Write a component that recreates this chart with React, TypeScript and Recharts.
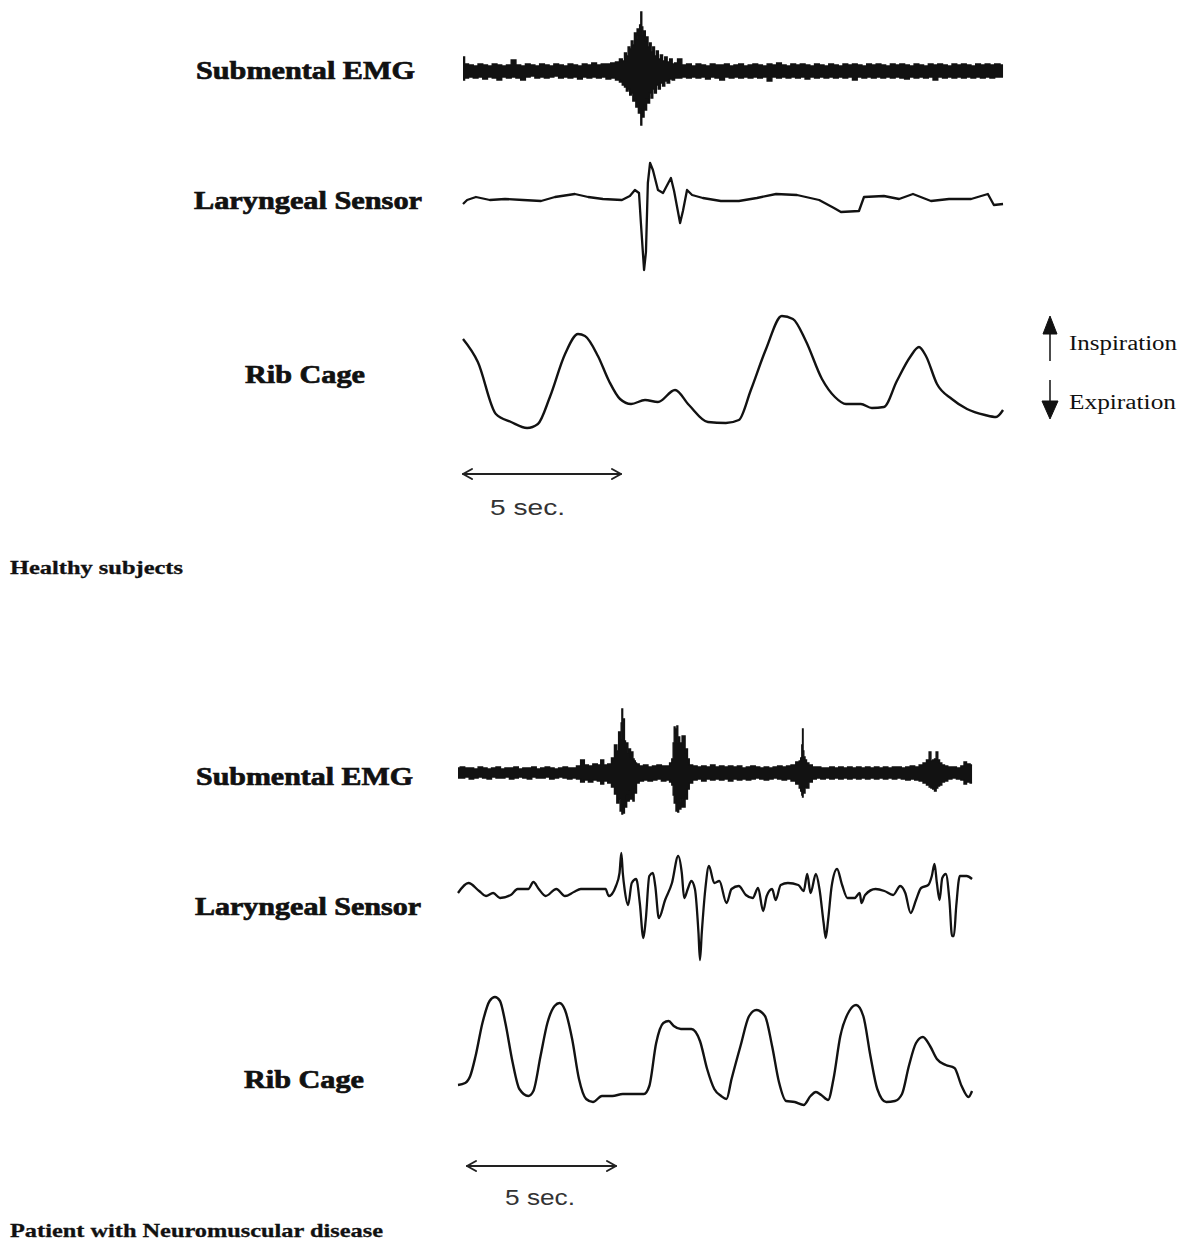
import React from "react";
import { LineChart, Line, AreaChart, Area, XAxis, YAxis } from "recharts";

// ---------- DATA (time in seconds, amplitude in arbitrary units) ----------
// Healthy subject: submental EMG envelope [t, downward amplitude, upward amplitude]
const healthyEmg: [number, number, number][] = [
  [0, 9, 14], [0.1, 7, 7], [0.25, 6, 6], [0.4, 7, 5], [0.55, 6, 7], [0.7, 8, 6], [0.85, 6, 5], [1.0, 7, 7],
  [1.15, 9, 6], [1.3, 6, 5], [1.45, 7, 6], [1.6, 6, 11], [1.75, 7, 6], [1.9, 9, 5], [2.05, 6, 7], [2.2, 5, 6],
  [2.35, 7, 5], [2.5, 6, 7], [2.65, 7, 6], [2.8, 6, 5], [2.95, 5, 7], [3.1, 7, 6], [3.25, 6, 5], [3.4, 7, 7],
  [3.55, 6, 6], [3.7, 8, 5], [3.85, 6, 7], [4.0, 7, 6], [4.15, 6, 8], [4.3, 7, 6], [4.45, 6, 7], [4.6, 8, 7],
  [4.75, 7, 8], [4.9, 9, 9], [5.0, 11, 12],
  [5.08, 14, 10], [5.14, 16, 18], [5.2, 20, 15], [5.25, 18, 24], [5.3, 24, 22], [5.35, 22, 30], [5.4, 30, 26],
  [5.45, 28, 38], [5.49, 36, 32], [5.53, 32, 42], [5.57, 42, 36], [5.61, 38, 46], [5.645, 54, 59], [5.67, 40, 44],
  [5.71, 46, 36], [5.75, 34, 40], [5.79, 39, 30], [5.83, 28, 34], [5.88, 32, 24], [5.93, 22, 28], [5.98, 27, 19],
  [6.03, 18, 24], [6.09, 22, 15], [6.15, 14, 20], [6.21, 18, 12], [6.28, 12, 16], [6.35, 15, 10], [6.42, 10, 14],
  [6.5, 12, 9], [6.58, 8, 12], [6.66, 9, 7], [6.73, 7, 8],
  [6.85, 7, 12], [7.0, 6, 6], [7.15, 7, 7], [7.3, 6, 5], [7.45, 7, 7], [7.6, 6, 6], [7.75, 8, 5], [7.9, 6, 7],
  [8.05, 7, 6], [8.2, 9, 6], [8.35, 6, 7], [8.5, 7, 5], [8.65, 6, 6], [8.8, 7, 7], [8.95, 6, 5], [9.1, 7, 6],
  [9.25, 6, 7], [9.4, 7, 6], [9.55, 6, 5], [9.7, 10, 7], [9.85, 6, 6], [10.0, 7, 8], [10.15, 6, 6], [10.3, 7, 5],
  [10.45, 6, 7], [10.6, 7, 6], [10.75, 6, 7], [10.9, 8, 6], [11.05, 6, 5], [11.2, 7, 7], [11.35, 6, 6], [11.5, 7, 5],
  [11.65, 6, 7], [11.8, 7, 6], [11.95, 6, 5], [12.1, 7, 7], [12.25, 6, 6], [12.4, 9, 7], [12.55, 6, 6], [12.7, 7, 5],
  [12.85, 6, 7], [13.0, 7, 6], [13.15, 6, 7], [13.3, 7, 6], [13.45, 6, 5], [13.6, 7, 7], [13.75, 6, 6], [13.9, 7, 7],
  [14.05, 8, 6], [14.2, 6, 5], [14.35, 7, 7], [14.5, 6, 6], [14.65, 7, 5], [14.8, 6, 7], [14.95, 9, 6], [15.1, 6, 7],
  [15.25, 7, 6], [15.4, 6, 5], [15.55, 7, 7], [15.7, 6, 6], [15.85, 7, 7], [16.0, 6, 6], [16.15, 7, 5], [16.3, 6, 7],
  [16.45, 7, 6], [16.6, 6, 7], [16.75, 7, 6], [16.9, 6, 7], [17.09, 6, 6],
];

// Healthy subject: laryngeal sensor [t, value]
const healthyLarynx: [number, number][] = [
  [0, -4], [0.13, 0], [0.41, 3], [0.85, 0], [1.33, 1], [1.9, 0], [2.47, -1], [2.91, 3], [3.54, 6], [3.96, 3],
  [4.43, 1], [5.03, 0], [5.28, 4], [5.44, 10], [5.57, 7], [5.63, -23], [5.73, -70], [5.79, -52], [5.85, 17],
  [5.92, 37], [6.01, 30], [6.17, 10], [6.33, 7], [6.58, 22], [6.68, 9], [6.87, -23], [6.96, -11], [7.09, 10],
  [7.25, 5], [7.59, 2], [8.16, -1], [8.73, -1], [9.3, 2], [9.91, 6], [10.57, 5], [11.27, 0], [11.74, -8],
  [11.96, -12], [12.53, -11], [12.69, 3], [13.32, 4], [13.8, 1], [14.24, 6], [14.81, -1], [15.38, 1], [16.08, 1],
  [16.61, 6], [16.8, -5], [17.09, -4],
];

// Healthy subject: rib cage [t, value]
const healthyRib: [number, number][] = [
  [0, 91], [0.47, 68], [1.04, 16], [1.52, 8], [2.03, 2], [2.37, 6], [2.75, 33], [3.23, 76], [3.64, 96], [3.86, 94],
  [4.27, 74], [4.62, 49], [4.97, 31], [5.32, 26], [5.76, 30], [6.17, 28], [6.71, 40], [7.15, 25], [7.75, 8],
  [8.32, 7], [8.73, 10], [9.11, 40], [9.59, 81], [10.09, 114], [10.44, 111], [10.85, 89], [11.36, 51], [11.77, 33],
  [12.12, 26], [12.59, 26], [12.94, 22], [13.32, 23], [13.73, 49], [14.15, 73], [14.43, 83], [14.65, 74],
  [15.0, 46], [15.47, 31], [15.95, 21], [16.52, 15], [16.87, 13], [17.09, 20],
];

// Patient: submental EMG envelope [t, downward amplitude, upward amplitude]
const patientEmg: [number, number, number][] = [
  [0, 5, 5], [0.15, 5, 6], [0.3, 4, 5], [0.45, 6, 5], [0.6, 5, 4], [0.75, 4, 6], [0.9, 5, 5], [1.05, 6, 4],
  [1.2, 4, 5], [1.35, 5, 6], [1.5, 5, 4], [1.65, 4, 5], [1.8, 6, 5], [1.95, 5, 6], [2.1, 4, 4], [2.25, 5, 5],
  [2.4, 6, 5], [2.55, 4, 6], [2.7, 5, 4], [2.85, 5, 5], [3.0, 4, 6], [3.15, 6, 5], [3.3, 5, 4], [3.45, 4, 5],
  [3.6, 5, 6], [3.75, 6, 5], [3.9, 5, 5], [4.05, 6, 7], [4.18, 9, 13], [4.3, 7, 8], [4.45, 9, 7], [4.6, 7, 9],
  [4.75, 8, 8], [4.83, 11, 13], [4.95, 8, 8], [5.1, 10, 9], [5.2, 14, 15],
  [5.3, 21, 28], [5.36, 30, 22], [5.42, 26, 41], [5.46, 38, 34], [5.49, 32, 50], [5.51, 41, 64], [5.54, 36, 44],
  [5.57, 40, 54], [5.6, 30, 32], [5.64, 34, 26], [5.68, 22, 30], [5.72, 28, 20], [5.77, 18, 24], [5.81, 26, 16],
  [5.85, 22, 21], [5.89, 28, 14], [5.93, 16, 12], [5.97, 20, 10], [6.01, 10, 9],
  [6.15, 8, 7], [6.3, 7, 8], [6.45, 8, 6], [6.6, 7, 7], [6.75, 6, 8], [6.9, 8, 7], [7.05, 7, 7], [7.15, 9, 10],
  [7.2, 12, 14], [7.24, 22, 30], [7.27, 30, 46], [7.3, 24, 40], [7.33, 38, 44], [7.36, 32, 47], [7.39, 39, 30],
  [7.42, 30, 36], [7.46, 36, 24], [7.5, 26, 30], [7.54, 34, 37], [7.57, 28, 26], [7.6, 34, 37], [7.64, 22, 20],
  [7.68, 26, 24], [7.72, 16, 14], [7.8, 10, 8],
  [7.95, 7, 7], [8.1, 6, 6], [8.25, 8, 7], [8.4, 6, 6], [8.55, 7, 8], [8.7, 6, 6], [8.85, 7, 7], [9.0, 6, 6],
  [9.15, 8, 7], [9.3, 6, 6], [9.45, 7, 7], [9.6, 6, 5], [9.75, 7, 6], [9.9, 6, 7], [10.05, 5, 6], [10.2, 6, 5],
  [10.35, 7, 6], [10.5, 6, 5], [10.65, 5, 6], [10.8, 6, 7], [10.95, 7, 6], [11.1, 6, 7], [11.25, 8, 8],
  [11.42, 11, 11], [11.48, 15, 12], [11.52, 18, 15], [11.555, 22, 28], [11.57, 24, 44], [11.59, 18, 22],
  [11.62, 20, 16], [11.67, 14, 13], [11.72, 15, 10], [11.83, 9, 8],
  [11.95, 6, 6], [12.1, 5, 6], [12.25, 6, 5], [12.4, 5, 5], [12.55, 6, 6], [12.7, 5, 5], [12.85, 6, 6], [13.0, 5, 5],
  [13.15, 6, 6], [13.3, 5, 5], [13.45, 6, 6], [13.6, 5, 5], [13.75, 6, 6], [13.9, 5, 5], [14.05, 6, 6], [14.2, 5, 5],
  [14.35, 6, 6], [14.5, 5, 5], [14.65, 6, 6], [14.8, 5, 6], [14.95, 6, 5], [15.1, 7, 6], [15.25, 6, 7], [15.4, 7, 6],
  [15.55, 8, 8],
  [15.66, 10, 10], [15.78, 12, 13], [15.84, 14, 21], [15.9, 15, 12], [15.96, 16, 13], [16.02, 18, 14], [16.07, 15, 21],
  [16.13, 13, 13], [16.19, 12, 10], [16.28, 9, 8], [16.37, 8, 7],
  [16.5, 6, 6], [16.65, 5, 6], [16.8, 6, 5], [16.95, 7, 7], [17.01, 11, 11], [17.12, 9, 9], [17.25, 10, 8],
];

// Patient: laryngeal sensor [t, value]
const patientLarynx: [number, number][] = [
  [0, -3], [0.35, 7], [0.71, -1], [0.94, -6], [1.18, -3], [1.41, -8], [1.77, -5], [2.0, 1], [2.36, 1], [2.53, 8],
  [2.71, 1], [2.94, -6], [3.3, 1], [3.59, -6], [3.89, -2], [4.12, 1], [4.59, 1], [4.95, 1], [5.06, -6], [5.3, 4],
  [5.42, 17], [5.48, 37], [5.53, 17], [5.59, 1], [5.71, -15], [5.83, 7], [5.98, 11], [6.1, -13], [6.22, -48],
  [6.3, -30], [6.42, 14], [6.54, 17], [6.62, 4], [6.74, -28], [6.95, -10], [7.18, 7], [7.39, 34], [7.51, 17],
  [7.59, -8], [7.71, 1], [7.83, 9], [7.95, 1], [8.07, -43], [8.12, -70], [8.18, -43], [8.3, 1], [8.42, 24],
  [8.6, 7], [8.77, 9], [9.01, -13], [9.18, 1], [9.42, 4], [9.66, -5], [9.89, -8], [10.07, 2], [10.24, -21],
  [10.36, -6], [10.54, 1], [10.66, -10], [10.83, 5], [11.07, 7], [11.42, 5], [11.6, -1], [11.72, 16], [11.83, -3],
  [12.01, 16], [12.13, 1], [12.27, -33], [12.34, -48], [12.42, -30], [12.54, 4], [12.72, 21], [12.89, 5],
  [13.07, -8], [13.31, -8], [13.48, -3], [13.54, -13], [13.66, -5], [14.01, 1], [14.31, -1], [14.6, -5],
  [14.84, 4], [15.01, -3], [15.19, -23], [15.37, -10], [15.54, 2], [15.78, 5], [15.9, 14], [15.99, 26], [16.07, 7],
  [16.16, -10], [16.25, 12], [16.37, 16], [16.49, -10], [16.58, -46], [16.64, -46], [16.72, -16], [16.84, 14],
  [17.07, 14], [17.25, 11],
];

// Patient: rib cage [t, value]
const patientRib: [number, number][] = [
  [0, 20], [0.24, 22], [0.41, 29], [0.59, 49], [0.82, 82], [1.06, 104], [1.24, 108], [1.41, 104], [1.59, 82],
  [1.83, 43], [2.06, 16], [2.36, 9], [2.53, 14], [2.77, 49], [3.0, 82], [3.24, 99], [3.41, 102], [3.59, 95],
  [3.83, 66], [4.06, 26], [4.3, 6], [4.53, 3], [4.83, 9], [5.18, 9], [5.53, 11], [5.83, 11], [6.24, 11],
  [6.42, 19], [6.65, 62], [6.89, 82], [7.07, 84], [7.24, 79], [7.48, 76], [7.83, 76], [8.12, 64], [8.36, 36],
  [8.6, 16], [8.83, 9], [9.01, 6], [9.18, 26], [9.48, 59], [9.77, 89], [10.01, 95], [10.3, 89], [10.54, 59],
  [10.77, 23], [11.01, 4], [11.3, 3], [11.6, 0], [11.83, 9], [12.01, 13], [12.19, 10], [12.42, 5], [12.6, 26],
  [12.83, 69], [13.13, 94], [13.36, 100], [13.6, 89], [13.84, 49], [14.07, 16], [14.37, 3], [14.66, 4],
  [14.9, 11], [15.13, 39], [15.37, 62], [15.6, 68], [15.84, 59], [16.07, 46], [16.37, 40], [16.66, 37],
  [16.9, 19], [17.13, 8], [17.25, 14],
];

const traceLabels = ["Submental EMG", "Laryngeal Sensor", "Rib Cage"];
const groupTitles = ["Healthy subjects", "Patient with Neuromuscular disease"];
const directionLabels = ["Inspiration", "Expiration"];
const scaleSeconds = 5;
const scaleLabel = "5 sec.";

// ---------- LAYOUT ----------
const PAD = 6;
const INK = "#121212";

type Geo = { left: number; pps: number; duration: number; baseY: number; top: number; height: number };

function axes(g: Geo) {
  const w = g.duration * g.pps + 2 * PAD;
  const domX: [number, number] = [-PAD / g.pps, g.duration + PAD / g.pps];
  const domY: [number, number] = [g.baseY - (g.top + g.height), g.baseY - g.top];
  return { w, domX, domY };
}

function LineTrace({ rows, g, curve, sw }: { rows: [number, number][]; g: Geo; curve: any; sw: number }) {
  const { w, domX, domY } = axes(g);
  const data = rows.map(([t, v]) => ({ t, v }));
  return (
    <div style={{ position: "absolute", left: g.left - PAD, top: g.top, width: w, height: g.height }}>
      <LineChart width={w} height={g.height} data={data} margin={{ top: 0, right: 0, bottom: 0, left: 0 }}>
        <XAxis dataKey="t" type="number" domain={domX} hide allowDataOverflow />
        <YAxis type="number" domain={domY} hide allowDataOverflow />
        <Line dataKey="v" type={curve} stroke={INK} strokeWidth={sw} dot={false} activeDot={false} isAnimationActive={false} strokeLinejoin="round" />
      </LineChart>
    </div>
  );
}

function EmgTrace({ rows, g }: { rows: [number, number, number][]; g: Geo }) {
  const { w, domX, domY } = axes(g);
  const data = rows.map(([t, dn, up]) => ({ t, r: [-dn, up] }));
  return (
    <div style={{ position: "absolute", left: g.left - PAD, top: g.top, width: w, height: g.height }}>
      <AreaChart width={w} height={g.height} data={data} margin={{ top: 0, right: 0, bottom: 0, left: 0 }}>
        <XAxis dataKey="t" type="number" domain={domX} hide allowDataOverflow />
        <YAxis type="number" domain={domY} hide allowDataOverflow />
        <Area dataKey="r" type="step" stroke={INK} strokeWidth={1.4} fill={INK} fillOpacity={1} dot={false} activeDot={false} isAnimationActive={false} />
      </AreaChart>
    </div>
  );
}

const HX = 463, HPPS = 31.6, HT = 17.09;
const PX = 458, PPPS = 29.8, PT = 17.25;

const serif = "'Liberation Serif', 'Times New Roman', serif";
const sans = "'Liberation Sans', Arial, sans-serif";

function Label({ x, y, len, text, size = 25, bold = true, heavy = 0.7 }: { x: number; y: number; len: number; text: string; size?: number; bold?: boolean; heavy?: number }) {
  return (
    <text x={x} y={y} fontFamily={serif} fontWeight={bold ? 700 : 400} fontSize={size} fill="#111"
      stroke={bold ? "#111" : "none"} strokeWidth={bold ? heavy : 0}
      textLength={len} lengthAdjust="spacingAndGlyphs">
      {text}
    </text>
  );
}

function ScaleBar({ x, y, pps, lx, ly, llen }: { x: number; y: number; pps: number; lx: number; ly: number; llen: number }) {
  const x2 = x + scaleSeconds * pps;
  return (
    <g stroke="#222" strokeWidth={2} fill="none" strokeLinecap="round" strokeLinejoin="round">
      <line x1={x} y1={y} x2={x2} y2={y} />
      <polyline points={`${x + 9},${y - 5} ${x},${y} ${x + 9},${y + 5}`} />
      <polyline points={`${x2 - 9},${y - 5} ${x2},${y} ${x2 - 9},${y + 5}`} />
      <text x={lx} y={ly} stroke="none" fill="#333" fontFamily={sans} fontSize={22} textLength={llen} lengthAdjust="spacingAndGlyphs">
        {scaleLabel}
      </text>
    </g>
  );
}

export default function App() {
  return (
    <div style={{ position: "absolute", left: 0, top: 0, width: 1185, height: 1242, background: "#fff", overflow: "hidden" }}>
      <EmgTrace rows={healthyEmg} g={{ left: HX, pps: HPPS, duration: HT, baseY: 71, top: 0, height: 140 }} />
      <LineTrace rows={healthyLarynx} g={{ left: HX, pps: HPPS, duration: HT, baseY: 200, top: 145, height: 140 }} curve="linear" sw={2.3} />
      <LineTrace rows={healthyRib} g={{ left: HX, pps: HPPS, duration: HT, baseY: 430, top: 295, height: 145 }} curve="monotone" sw={2.4} />

      <EmgTrace rows={patientEmg} g={{ left: PX, pps: PPPS, duration: PT, baseY: 773, top: 695, height: 135 }} />
      <LineTrace rows={patientLarynx} g={{ left: PX, pps: PPPS, duration: PT, baseY: 890, top: 840, height: 130 }} curve="monotone" sw={2.3} />
      <LineTrace rows={patientRib} g={{ left: PX, pps: PPPS, duration: PT, baseY: 1105, top: 985, height: 130 }} curve="monotone" sw={2.4} />

      <svg width={1185} height={1242} style={{ position: "absolute", left: 0, top: 0, pointerEvents: "none" }}>
        <Label x={196} y={79} len={219} text={traceLabels[0]} />
        <Label x={194} y={209} len={228} text={traceLabels[1]} />
        <Label x={245} y={383} len={120} text={traceLabels[2]} />

        <Label x={196} y={785} len={217} text={traceLabels[0]} />
        <Label x={195} y={915} len={226} text={traceLabels[1]} />
        <Label x={244} y={1088} len={120} text={traceLabels[2]} />

        <Label x={10} y={574} len={173} size={18} heavy={0.3} text={groupTitles[0]} />
        <Label x={10} y={1237} len={373} size={19} heavy={0.3} text={groupTitles[1]} />

        <g fill="#111" stroke="#111">
          <line x1={1050} y1={330} x2={1050} y2={361} strokeWidth={1.5} />
          <polygon points="1043,334 1050,316 1057,334" />
          <line x1={1050} y1={380} x2={1050} y2={404} strokeWidth={1.5} />
          <polygon points="1042,401 1050,419 1058,401" />
        </g>
        <Label x={1069} y={350} len={108} size={20} bold={false} text={directionLabels[0]} />
        <Label x={1069} y={409} len={107} size={20} bold={false} text={directionLabels[1]} />

        <ScaleBar x={HX} y={474} pps={HPPS} lx={490} ly={515} llen={75} />
        <ScaleBar x={467} y={1166} pps={PPPS} lx={505} ly={1205} llen={70} />
      </svg>
    </div>
  );
}
